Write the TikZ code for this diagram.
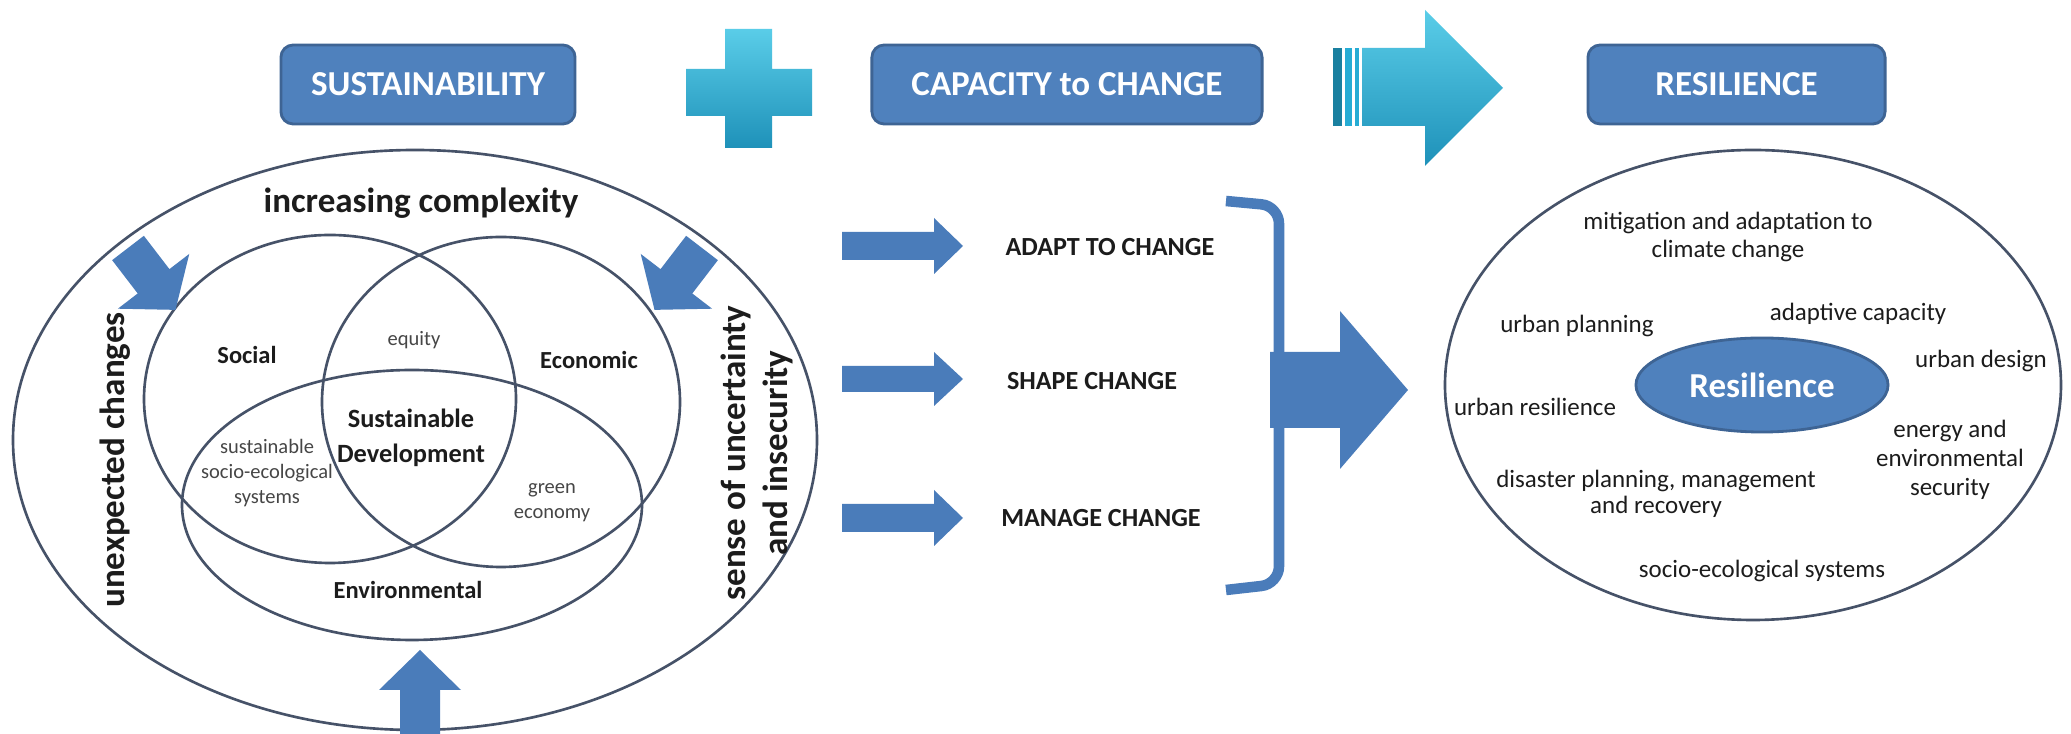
\documentclass[tikz,border=0pt]{standalone}
\usepackage{fontspec}
\setmainfont{Carlito}
\usetikzlibrary{shapes.geometric}

\definecolor{boxblue}{RGB}{79,129,189}
\definecolor{boxedge}{RGB}{62,100,148}
\definecolor{arrowblue}{RGB}{74,124,186}
\definecolor{ringgray}{RGB}{70,82,104}
\definecolor{cyanlight}{RGB}{90,205,232}
\definecolor{cyanmain}{RGB}{38,172,212}
\definecolor{cyandark}{RGB}{30,145,185}
\definecolor{stripedark}{RGB}{26,128,160}
\definecolor{inkdark}{RGB}{28,28,28}
\definecolor{inkgray}{RGB}{70,70,70}

% block arrow: tail centre (#1,#2), rotation #3, length #4, head length #5,
% shaft half width #6, head half width #7, fill style #8
\newcommand\drawblockarrow[8]{%
  \fill[#8, shift={(#1,#2)}, rotate=#3]
    (0,-#6) -- ({#4-#5},-#6) -- ({#4-#5},-#7) -- (#4,0) --
    ({#4-#5},#7) -- ({#4-#5},#6) -- (0,#6) -- cycle;}

\tikzset{
  ring/.style={draw=ringgray, line width=0.75pt},
  titlebox/.style={draw=boxedge, fill=boxblue, line width=0.8pt,
    rounded corners=3.5pt, text=white, minimum height=0.79cm, inner sep=0pt,
    font=\fontsize{9.96pt}{12pt}\selectfont\bfseries},
  bigbold/.style={inner sep=0pt, text=inkdark, align=center,
    font=\fontsize{9.96pt}{12.2pt}\selectfont\bfseries},
  venn/.style={inner sep=0pt, text=inkdark, align=center,
    font=\fontsize{6.97pt}{8pt}\selectfont\bfseries},
  core/.style={inner sep=0pt, text=inkdark, align=center,
    font=\fontsize{7.5pt}{10pt}\selectfont\bfseries},
  minor/.style={inner sep=0pt, text=inkgray, align=center,
    font=\fontsize{5.83pt}{7.1pt}\selectfont},
  changelbl/.style={inner sep=0pt, text=inkdark,
    font=\fontsize{7.43pt}{9pt}\selectfont\bfseries},
  ringtext/.style={inner sep=0pt, text=inkdark, align=center,
    font=\fontsize{7.1pt}{7.7pt}\selectfont},
}

\begin{document}
\begin{tikzpicture}[x=0.01cm, y=-0.01cm]
\useasboundingbox (0,0) rectangle (2071,734);
\fill[white] (0,0) rectangle (2071,734);

% ---------- headline row ----------
\node[titlebox, minimum width=2.94cm] (sust) at (428,84.5) {SUSTAINABILITY};
\node[titlebox, minimum width=3.90cm] (capacity) at (1067,84.5) {CAPACITY to CHANGE};
\node[titlebox, minimum width=2.97cm] (resil) at (1736.5,84.5) {RESILIENCE};

% plus sign
\shade[top color=cyanlight, middle color=cyanmain, bottom color=cyandark]
  (725,29) -- (772,29) -- (772,69) -- (812,69) -- (812,116) -- (772,116) --
  (772,148) -- (725,148) -- (725,116) -- (686,116) -- (686,69) -- (725,69) -- cycle;

% striped arrow
\fill[stripedark] (1333,48) rectangle (1342,126);
\fill[cyanmain] (1345,48) rectangle (1352,126);
\fill[cyanmain] (1355,48) rectangle (1359,126);
\shade[top color=cyanlight, middle color=cyanmain, bottom color=cyandark]
  (1362,48) -- (1425,48) -- (1425,10) -- (1503,88) -- (1425,166) --
  (1425,126) -- (1362,126) -- cycle;

% ---------- sustainability rings ----------
\draw[ring] (415,440) ellipse [x radius=402, y radius=290];
\draw[ring] (330,399) ellipse [x radius=186, y radius=164];
\draw[ring] (501,402) ellipse [x radius=179, y radius=165];
\draw[ring] (412,505) ellipse [x radius=230, y radius=135];

% pressures on the system
\drawblockarrow{128}{248}{-52.5}{78}{36}{20}{45}{arrowblue}
\drawblockarrow{702}{248}{-127.5}{78}{36}{20}{45}{arrowblue}
\drawblockarrow{420}{745}{90}{95}{40}{20}{41}{arrowblue}

\node[bigbold] (complexity) at (421,203) {increasing complexity};
\node[bigbold, rotate=90] (unexpected) at (115,460) {unexpected changes};
\node[bigbold, rotate=90] (uncertainty) at (757,453) {sense of uncertainty\\and insecurity};

\node[venn] (social) at (247,355) {Social};
\node[venn] (economic) at (589,360) {Economic};
\node[venn] (environmental) at (408,590) {Environmental};
\node[core] (sd) at (411,438) {Sustainable\\Development};
\node[minor] (equity) at (414,340) {equity};
\node[minor] (sses) at (267,473) {sustainable\\socio-ecological\\systems};
\node[minor] (green) at (552,503) {green\\economy};

% ---------- capacity to change ----------
\drawblockarrow{842}{246}{0}{121}{29}{14}{28}{arrowblue}
\drawblockarrow{842}{379}{0}{121}{29}{13}{27}{arrowblue}
\drawblockarrow{842}{518}{0}{121}{29}{14}{28}{arrowblue}

\node[changelbl] (adapt) at (1110,247) {ADAPT TO CHANGE};
\node[changelbl] (shape) at (1092,381) {SHAPE CHANGE};
\node[changelbl] (manage) at (1101,518) {MANAGE CHANGE};

\draw[arrowblue, line width=3pt, rounded corners=5pt]
  (1226,201) -- (1279,206) -- (1279,584) -- (1226,590);
\drawblockarrow{1270}{390}{0}{138}{68}{38}{79}{arrowblue}

% ---------- resilience ring ----------
\draw[ring] (1753,385) ellipse [x radius=308, y radius=235];
\node[ellipse, draw=boxedge, fill=boxblue, line width=0.8pt, inner sep=0pt,
  minimum width=2.52cm, minimum height=0.94cm, text=white,
  font=\fontsize{9.96pt}{12pt}\selectfont\bfseries] (core) at (1762,385) {Resilience};

\node[ringtext] (mitigation) at (1728,237) {mitigation and adaptation to\\climate change};
\node[ringtext] (uplanning) at (1577,326) {urban planning};
\node[ringtext] (adcapacity) at (1858,314) {adaptive capacity};
\node[ringtext] (udesign) at (1981,361) {urban design};
\node[ringtext] (uresilience) at (1535,407) {urban resilience};
\node[ringtext, font=\fontsize{7.1pt}{8.2pt}\selectfont] (energy) at (1950,460) {energy and\\environmental\\security};
\node[ringtext, font=\fontsize{7.1pt}{7.4pt}\selectfont] (disaster) at (1656,494) {disaster planning, management\\and recovery};
\node[ringtext] (socioeco) at (1762,571) {socio-ecological systems};
\end{tikzpicture}
\end{document}
